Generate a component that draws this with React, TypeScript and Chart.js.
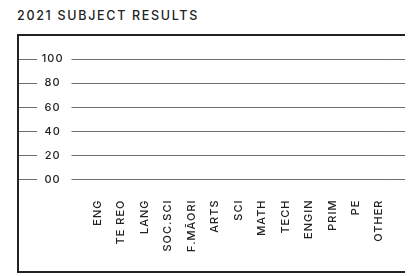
import { useEffect, useRef } from "react";
import { Chart, registerables } from "chart.js";

Chart.register(...registerables);

const chartTitle = "2021 SUBJECT RESULTS";
const subjects = ["ENG", "TE REO", "LANG", "SOC.SCI", "F.MĀORI", "ARTS", "SCI", "MATH", "TECH", "ENGIN", "PRIM", "PE", "OTHER"];
// No results are shown in the reference: every subject is empty.
const results: (number | null)[] = [null, null, null, null, null, null, null, null, null, null, null, null, null];
const yTickLabels = ["00", "20", "40", "60", "80", "100"];
const yMin = 0;
const yMax = 100;
const yStep = 20;

const FONT = "Inter, 'Liberation Sans', Arial, sans-serif";
const INK = "#222222";
const GRID = "#6e6e6e";

const spacingPlugin = {
  id: "letterSpacing",
  beforeUpdate(chart: any) {
    (chart.ctx as any).letterSpacing = "1px";
  },
  beforeDraw(chart: any) {
    (chart.ctx as any).letterSpacing = "1px";
  },
};

export default function App() {
  const ref = useRef<HTMLCanvasElement | null>(null);

  useEffect(() => {
    if (!ref.current) return;
    const tickFont = { family: FONT, size: 11, weight: "500" };
    const chart = new Chart(ref.current, {
      type: "bar",
      data: {
        labels: subjects,
        datasets: [{ label: "Results", data: results, backgroundColor: INK }],
      },
      plugins: [spacingPlugin],
      options: {
        animation: false,
        responsive: true,
        maintainAspectRatio: false,
        layout: { padding: { top: 23, left: 0, right: 0, bottom: 0 } },
        plugins: { legend: { display: false }, tooltip: { enabled: false }, title: { display: false } },
        scales: {
          x: {
            type: "category",
            offset: true,
            grid: { display: false, drawTicks: false },
            border: { display: false },
            ticks: {
              autoSkip: false,
              minRotation: 90,
              maxRotation: 90,
              padding: 20,
              color: INK,
              font: tickFont,
            },
            afterFit: (s: any) => {
              s.height = 91.5;
            },
          },
          y: {
            position: "left",
            weight: 0,
            min: yMin,
            max: yMax,
            ticks: {
              stepSize: yStep,
              crossAlign: "center",
              padding: 8,
              color: INK,
              font: tickFont,
              callback: (v: any) => yTickLabels[Math.round((Number(v) - yMin) / yStep)],
            },
            grid: { color: GRID, lineWidth: 1, tickLength: 14.5, drawTicks: true },
            border: { display: false },
            afterFit: (s: any) => {
              s.width = 49;
            },
          },
          yDash: {
            position: "left",
            weight: 1,
            min: yMin,
            max: yMax,
            ticks: { display: false, stepSize: yStep },
            grid: { drawOnChartArea: false, color: GRID, lineWidth: 1, tickLength: 18 },
            border: { display: false },
            afterFit: (s: any) => {
              s.width = 18;
            },
          },
          yRight: {
            position: "right",
            min: yMin,
            max: yMax,
            ticks: { display: false, stepSize: yStep },
            grid: { drawOnChartArea: false, color: GRID, lineWidth: 1, tickLength: 17 },
            border: { display: false },
            afterFit: (s: any) => {
              s.width = 17;
            },
          },
        },
      } as any,
    });
    return () => chart.destroy();
  }, []);

  return (
    <div style={{ marginLeft: 9, marginRight: -8 }}>
      <div
        style={{
          fontFamily: FONT,
          fontSize: 12.5,
          lineHeight: "16px",
          letterSpacing: "1.7px",
          fontWeight: 500,
          color: INK,
        }}
      >
        {chartTitle}
      </div>
      <div
        style={{
          marginTop: 10,
          border: `2px solid ${INK}`,
          borderRight: "none",
          height: 235,
          position: "relative",
        }}
      >
        <canvas ref={ref} />
      </div>
    </div>
  );
}
